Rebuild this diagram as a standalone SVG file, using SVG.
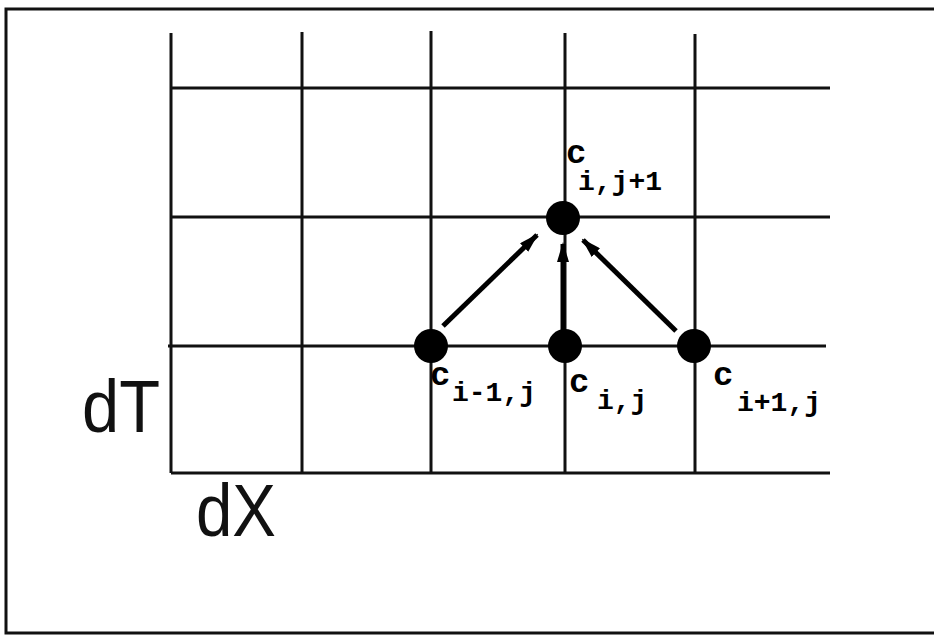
<svg xmlns="http://www.w3.org/2000/svg" width="936" height="636" viewBox="0 0 936 636">
<style>
.frame{stroke:#111;stroke-width:3;fill:none}
.grid{stroke:#111;stroke-width:3;fill:none}
.conn{stroke:#000;stroke-width:5;fill:none;marker-end:url(#ah)}
.node{fill:#000}
.c{font-family:"Liberation Mono",monospace;font-weight:bold;font-size:28px;fill:#000}
.cb{font-size:34px}
.ax{font-family:"Liberation Sans",Arial,sans-serif;font-size:75px;fill:#111}
</style>
<defs>
<marker id="ah" viewBox="0 0 10 6" refX="9" refY="3" markerWidth="4" markerHeight="2.4" orient="auto" markerUnits="strokeWidth">
<path d="M0,0 L10,3 L0,6 Z" fill="#000"/>
</marker>
</defs>
<rect width="936" height="636" fill="#fff"/>
<g id="frame">
<path class="frame" d="M934,9 L6,9 L6,633 L934,633"/>
</g>
<g id="grid">
<line class="grid" x1="171" y1="33" x2="171" y2="473"/>
<line class="grid" x1="302" y1="32" x2="302" y2="473"/>
<line class="grid" x1="431" y1="31" x2="431" y2="473"/>
<line class="grid" x1="565" y1="33" x2="565" y2="473"/>
<line class="grid" x1="695" y1="34" x2="695" y2="473"/>
<line class="grid" x1="171" y1="88" x2="830" y2="88"/>
<line class="grid" x1="171" y1="217" x2="830" y2="217"/>
<line class="grid" x1="168" y1="346" x2="826" y2="346"/>
<line class="grid" x1="171" y1="473" x2="830" y2="473"/>
</g>
<g id="connectors">
<line class="conn" x1="443" y1="326" x2="537" y2="235"/>
<line class="conn" x1="563" y1="330" x2="563" y2="244"/>
<line class="conn" x1="676" y1="331" x2="583" y2="240"/>
</g>
<g id="node-ij1">
<circle class="node" cx="563" cy="218" r="17"/>
<text class="c cb" x="566" y="163">c</text>
<text class="c" x="578" y="190">i,j+1</text>
</g>
<g id="node-im1j">
<circle class="node" cx="431" cy="346" r="17"/>
<text class="c cb" x="430" y="385">c</text>
<text class="c" x="452" y="401">i-1,j</text>
</g>
<g id="node-ij">
<circle class="node" cx="565" cy="346" r="17"/>
<text class="c cb" x="569" y="392">c</text>
<text class="c" x="597" y="409">i,j</text>
</g>
<g id="node-ip1j">
<circle class="node" cx="694" cy="346" r="17"/>
<text class="c cb" x="713" y="385">c</text>
<text class="c" x="737" y="411">i+1,j</text>
</g>
<g id="labels">
<text class="ax" x="82" y="432" textLength="78" lengthAdjust="spacingAndGlyphs">dT</text>
<text class="ax" x="196" y="536" textLength="80" lengthAdjust="spacingAndGlyphs">dX</text>
</g>
</svg>
